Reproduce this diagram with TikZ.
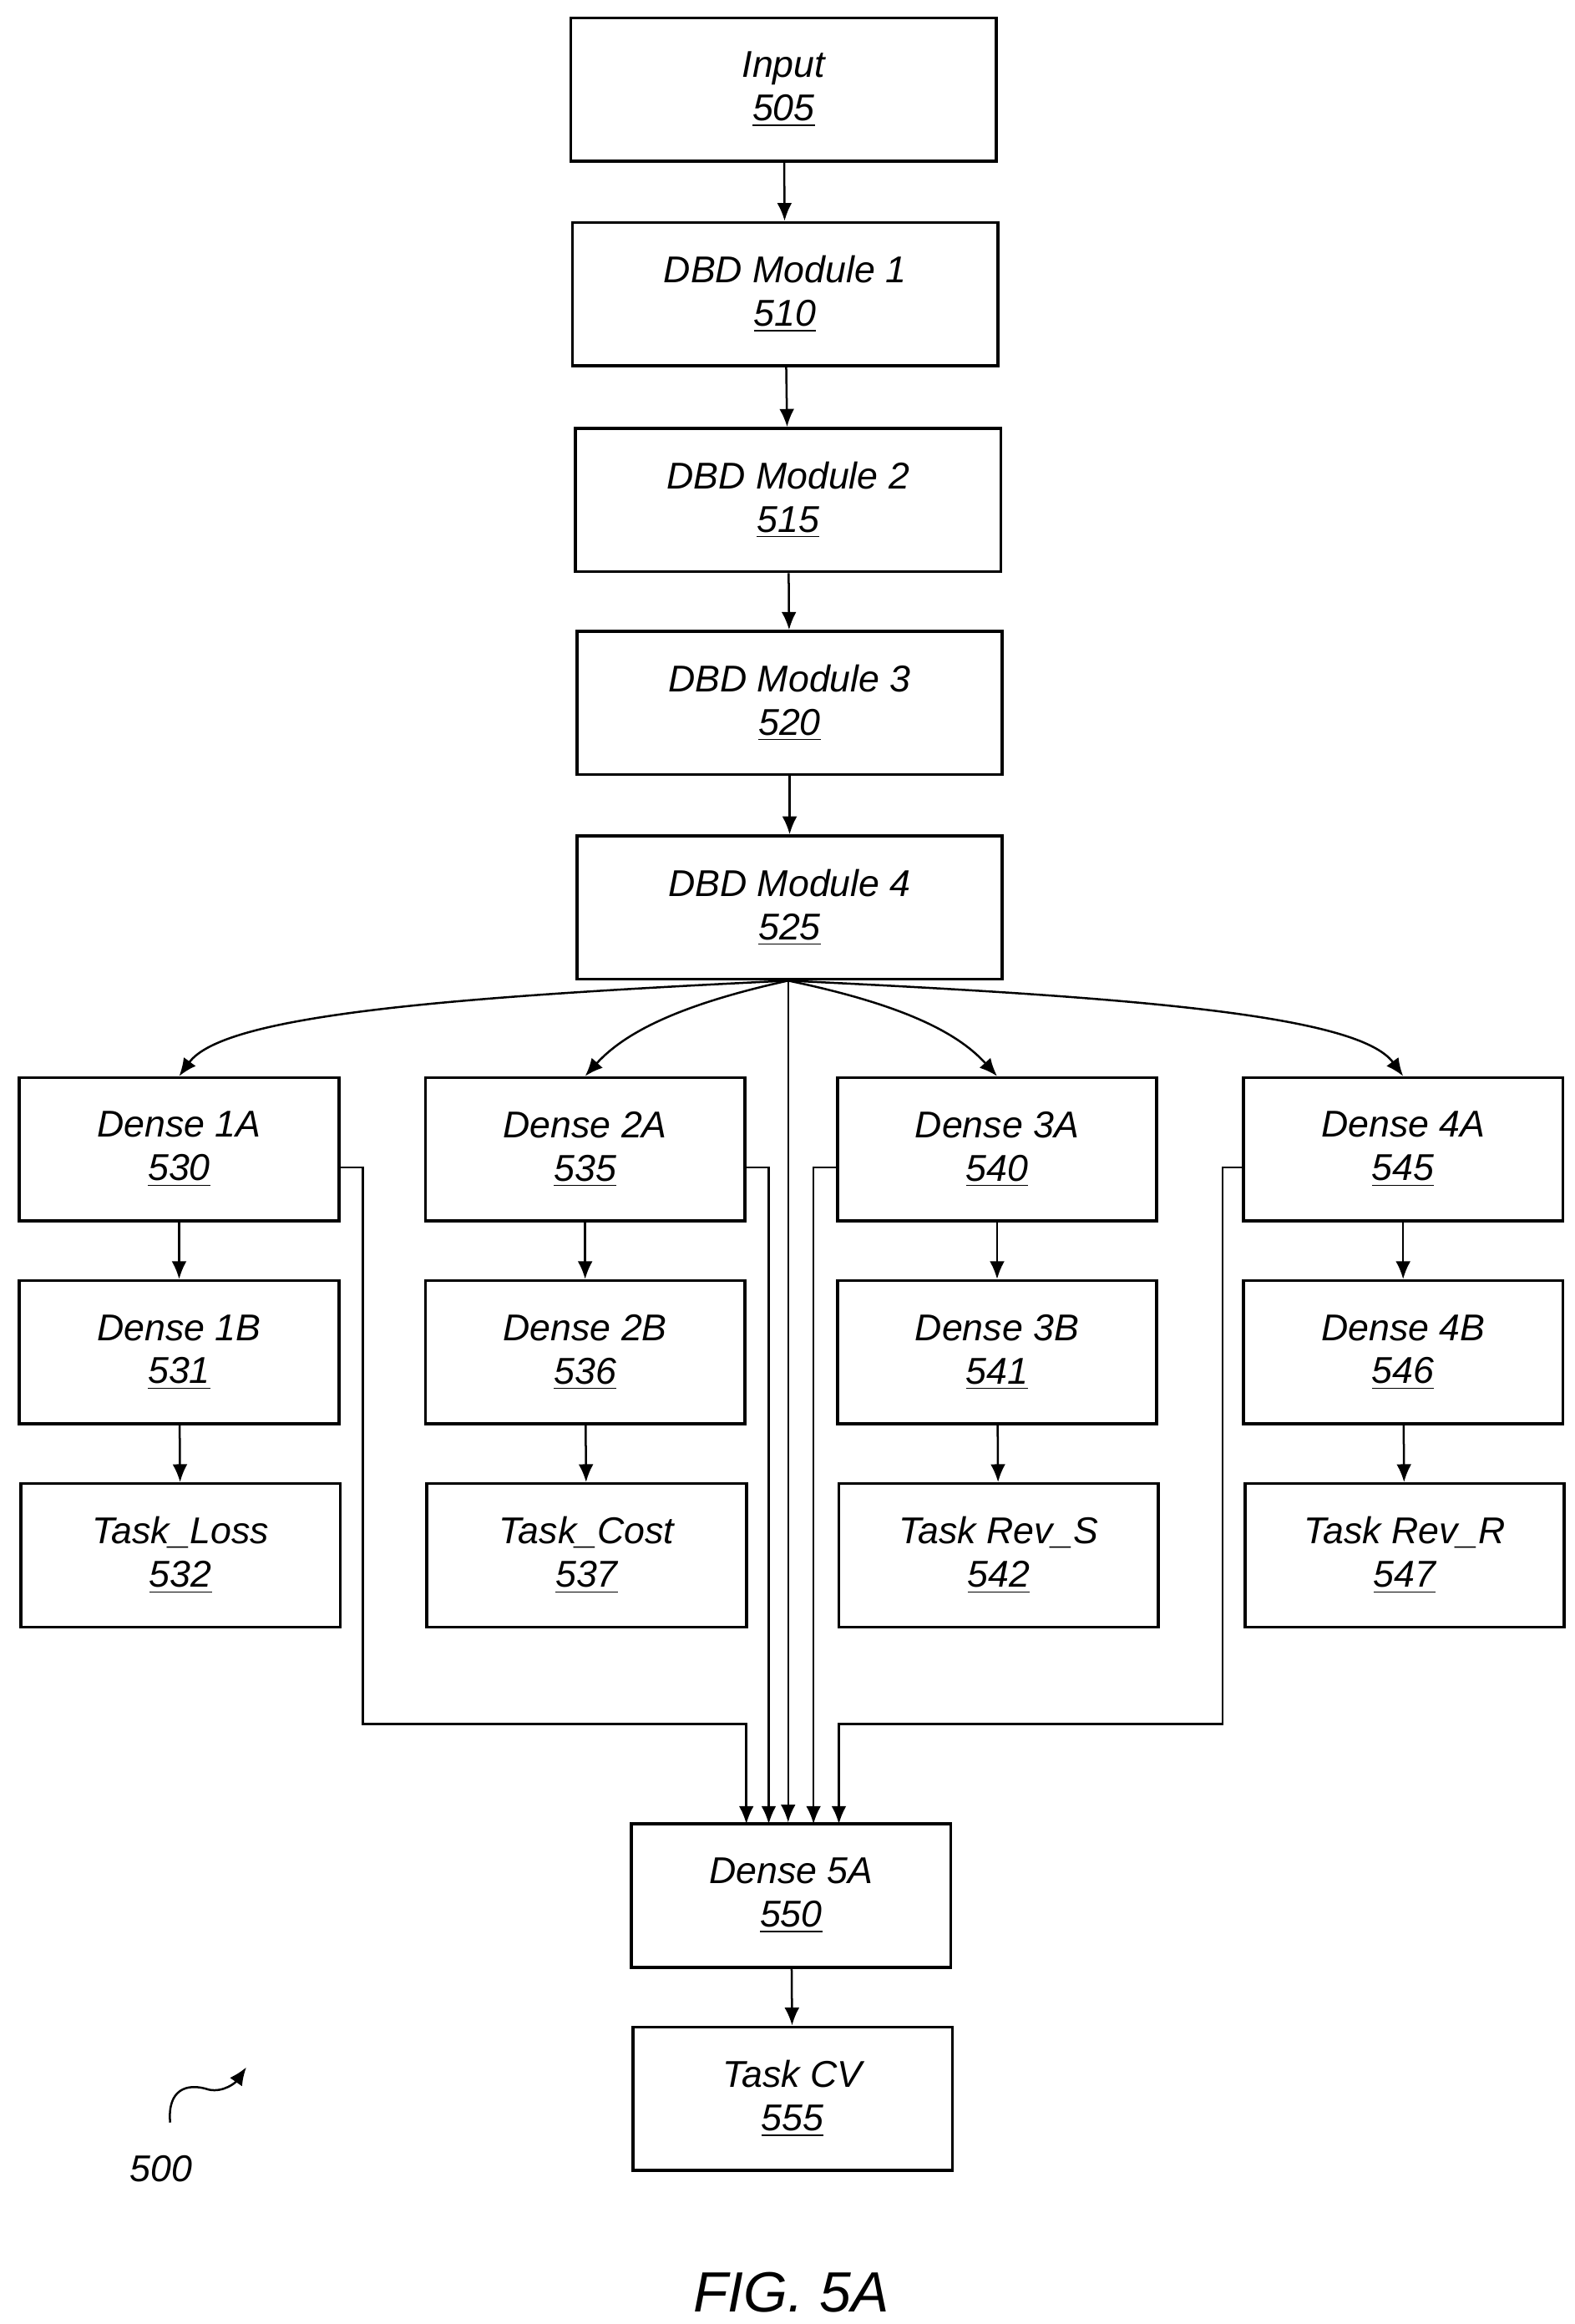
\documentclass[tikz,border=0pt]{standalone}
\usepackage{fontspec}
\setmainfont{Liberation Sans}
\usetikzlibrary{arrows.meta}
\begin{document}
\begin{tikzpicture}[x=0.5pt,y=-0.5pt,
 box/.style={draw,line width=1pt,minimum width=107pt,minimum height=48pt,inner sep=0pt,align=center,font=\fontsize{12.5}{14.5}\selectfont\itshape},
 wide/.style={minimum width=142.5pt},
 arr/.style={-{Latex[length=6pt,width=5pt]},line width=0.7pt},
 ln/.style={line width=0.7pt}]
\useasboundingbox (0,0) rectangle (1055,1557);
\newcommand{\bx}[5]{\node[box,#5] (#1) at (#2) {#3\\\underline{#4}};}
\bx{in}{525,60}{Input}{505}{wide}
\bx{m1}{526,197}{DBD Module 1}{510}{wide}
\bx{m2}{528,335}{DBD Module 2}{515}{wide}
\bx{m3}{529,471}{DBD Module 3}{520}{wide}
\bx{m4}{529,608}{DBD Module 4}{525}{wide}
\bx{a1}{120,770}{Dense 1A}{530}{}
\bx{a2}{392,770}{Dense 2A}{535}{}
\bx{a3}{668,770}{Dense 3A}{540}{}
\bx{a4}{940,770}{Dense 4A}{545}{}
\bx{b1}{120,906}{Dense 1B}{531}{}
\bx{b2}{392,906}{Dense 2B}{536}{}
\bx{b3}{668,906}{Dense 3B}{541}{}
\bx{b4}{940,906}{Dense 4B}{546}{}
\bx{c1}{121,1042}{Task\_Loss}{532}{}
\bx{c2}{393,1042}{Task\_Cost}{537}{}
\bx{c3}{669,1042}{Task Rev\_S}{542}{}
\bx{c4}{941,1042}{Task Rev\_R}{547}{}
\bx{d5}{530,1270}{Dense 5A}{550}{}
\bx{cv}{531,1406}{Task CV}{555}{}
\draw[arr] (in) -- (m1);
\draw[arr] (m1) -- (m2);
\draw[arr] (m2) -- (m3);
\draw[arr] (m3) -- (m4);
\foreach \i in {1,2,3,4}{\draw[arr] (a\i) -- (b\i); \draw[arr] (b\i) -- (c\i);}
\draw[arr] (d5) -- (cv);
\coordinate (o) at (528,657);
\draw[arr] (o) .. controls (300,668) and (150,680) .. (a1.north);
\draw[arr] (o) .. controls (460,672) and (420,690) .. (a2.north);
\draw[arr] (o) .. controls (600,672) and (640,690) .. (a3.north);
\draw[arr] (o) .. controls (760,668) and (910,680) .. (a4.north);
\draw[arr] (o) -- (d5.north -| o);
\draw[arr] (a1.east |- 0,782) -- (243,782) -- (243,1155) -- (500,1155) -- (500,1222);
\draw[arr] (a2.east |- 0,782) -- (515,782) -- (515,1222);
\draw[arr] (a3.west |- 0,782) -- (545,782) -- (545,1222);
\draw[arr] (a4.west |- 0,782) -- (819,782) -- (819,1155) -- (562,1155) -- (562,1222);
\node[font=\fontsize{12.5}{14.5}\selectfont\itshape] (lbl) at (108,1453) {500};
\coordinate (sq) at (114,1422);
\draw[arr] (sq) .. controls (112,1400) and (125,1395) .. (140,1400) .. controls (150,1402) and (158,1395) .. (165,1385);
\node[font=\fontsize{19}{22}\selectfont\itshape] (fig) at (530,1536) {FIG. 5A};
\end{tikzpicture}
\end{document}
